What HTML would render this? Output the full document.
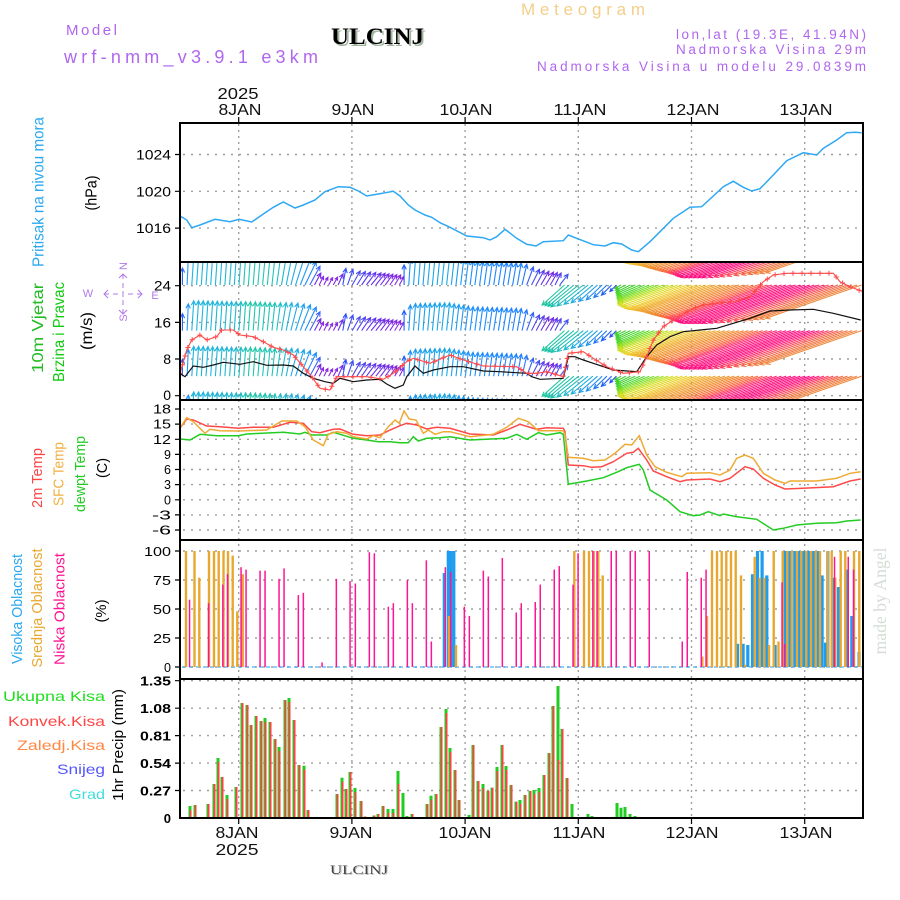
<!DOCTYPE html>
<html><head><meta charset="utf-8">
<style>
html,body{margin:0;padding:0;background:#fff;}
svg{display:block;}
text{font-family:"Liberation Sans",sans-serif;}
.sf{font-family:"Liberation Serif",serif;}
</style></head><body>
<svg width="900" height="900" viewBox="0 0 900 900" xmlns="http://www.w3.org/2000/svg">
<defs>
<clipPath id="cw"><rect x="181" y="263" width="681" height="136"/></clipPath>
</defs>
<rect width="900" height="900" fill="#fff"/>

<!-- header -->
<text x="521" y="15" font-size="17" fill="#f3cf8a" textLength="124" lengthAdjust="spacing">Meteogram</text>
<text x="66" y="35" font-size="15" fill="#b066ee" textLength="51" lengthAdjust="spacing">Model</text>
<text x="64" y="63" font-size="18" fill="#b066ee" textLength="254" lengthAdjust="spacing">wrf-nmm_v3.9.1 e3km</text>
<text class="sf" x="333" y="46" font-size="23" font-weight="bold" fill="#a0b4a0" textLength="93" lengthAdjust="spacingAndGlyphs">ULCINJ</text>
<text class="sf" x="331" y="44" font-size="23" font-weight="bold" fill="#000" textLength="93" lengthAdjust="spacingAndGlyphs">ULCINJ</text>
<text x="866" y="39" font-size="13.5" fill="#b066ee" text-anchor="end" textLength="190" lengthAdjust="spacing">lon,lat (19.3E, 41.94N)</text>
<text x="866" y="54" font-size="13.5" fill="#b066ee" text-anchor="end" textLength="190" lengthAdjust="spacing">Nadmorska Visina 29m</text>
<text x="866" y="71" font-size="13.5" fill="#b066ee" text-anchor="end" textLength="329" lengthAdjust="spacing">Nadmorska Visina u modelu 29.0839m</text>

<!-- top axis labels -->
<g font-size="16" fill="#111" text-anchor="middle">
<text x="238" y="99" textLength="41" lengthAdjust="spacingAndGlyphs">2025</text>
<text x="240" y="115" textLength="43" lengthAdjust="spacingAndGlyphs">8JAN</text>
<text x="353" y="115" textLength="43" lengthAdjust="spacingAndGlyphs">9JAN</text>
<text x="466" y="115" textLength="53" lengthAdjust="spacingAndGlyphs">10JAN</text>
<text x="580" y="115" textLength="53" lengthAdjust="spacingAndGlyphs">11JAN</text>
<text x="693" y="115" textLength="53" lengthAdjust="spacingAndGlyphs">12JAN</text>
<text x="806" y="115" textLength="53" lengthAdjust="spacingAndGlyphs">13JAN</text>
</g>
<!-- bottom axis labels -->
<g font-size="16" fill="#111" text-anchor="middle">
<text x="237" y="838" textLength="43" lengthAdjust="spacingAndGlyphs">8JAN</text>
<text x="237" y="855" textLength="43" lengthAdjust="spacingAndGlyphs">2025</text>
<text x="351" y="838" textLength="43" lengthAdjust="spacingAndGlyphs">9JAN</text>
<text x="465" y="838" textLength="53" lengthAdjust="spacingAndGlyphs">10JAN</text>
<text x="579" y="838" textLength="53" lengthAdjust="spacingAndGlyphs">11JAN</text>
<text x="692" y="838" textLength="53" lengthAdjust="spacingAndGlyphs">12JAN</text>
<text x="806" y="838" textLength="53" lengthAdjust="spacingAndGlyphs">13JAN</text>
</g>
<text class="sf" x="331" y="875" font-size="13" fill="#bbb" textLength="58" lengthAdjust="spacingAndGlyphs">ULCINJ</text>
<text class="sf" x="330" y="874" font-size="13" fill="#444" textLength="58" lengthAdjust="spacingAndGlyphs">ULCINJ</text>

<!-- rotated axis titles -->
<g font-size="16" text-anchor="middle">
<text transform="translate(43.5,192) rotate(-90)" fill="#2aa8f0" textLength="150" lengthAdjust="spacingAndGlyphs">Pritisak na nivou mora</text>
<text transform="translate(96.5,193) rotate(-90)" fill="#000" textLength="35" lengthAdjust="spacingAndGlyphs">(hPa)</text>
<text transform="translate(43,328) rotate(-90)" fill="#22bb22" textLength="90" lengthAdjust="spacingAndGlyphs">10m Vjetar</text>
<text transform="translate(64,332) rotate(-90)" fill="#11cc11" textLength="100" lengthAdjust="spacingAndGlyphs">Brzina i Pravac</text>
<text transform="translate(92,331) rotate(-90)" fill="#000" textLength="38" lengthAdjust="spacingAndGlyphs">(m/s)</text>
</g>
<g font-size="15" text-anchor="middle">
<text transform="translate(42,478) rotate(-90)" fill="#ff4444" textLength="60" lengthAdjust="spacingAndGlyphs">2m Temp</text>
<text transform="translate(63.5,474) rotate(-90)" fill="#f0b040" textLength="64" lengthAdjust="spacingAndGlyphs">SFC Temp</text>
<text transform="translate(85,474) rotate(-90)" fill="#22cc22" textLength="76" lengthAdjust="spacingAndGlyphs">dewpt Temp</text>
<text transform="translate(107,468) rotate(-90)" fill="#000" textLength="20" lengthAdjust="spacingAndGlyphs">(C)</text>
<text transform="translate(22,609) rotate(-90)" fill="#2aa8f0" textLength="110" lengthAdjust="spacingAndGlyphs">Visoka Oblacnost</text>
<text transform="translate(42,608) rotate(-90)" fill="#e8a830" textLength="119" lengthAdjust="spacingAndGlyphs">Srednja Oblacnost</text>
<text transform="translate(64.5,609) rotate(-90)" fill="#ff1493" textLength="112" lengthAdjust="spacingAndGlyphs">Niska Oblacnost</text>
<text transform="translate(106,611) rotate(-90)" fill="#000" textLength="23" lengthAdjust="spacingAndGlyphs">(%)</text>
<text transform="translate(123,745) rotate(-90)" fill="#000" textLength="112" lengthAdjust="spacingAndGlyphs">1hr Precip (mm)</text>
</g>
<text class="sf" transform="translate(886,601) rotate(-90)" font-size="18" fill="#d5ddd5" text-anchor="middle" textLength="107" lengthAdjust="spacingAndGlyphs">made by Angel</text>

<!-- precip legend -->
<g font-size="14" text-anchor="end">
<text x="105" y="701" fill="#22dd22" textLength="102" lengthAdjust="spacingAndGlyphs">Ukupna Kisa</text>
<text x="105" y="726" fill="#ff4444" textLength="97" lengthAdjust="spacingAndGlyphs">Konvek.Kisa</text>
<text x="105" y="750" fill="#ff8844" textLength="88" lengthAdjust="spacingAndGlyphs">Zaledj.Kisa</text>
<text x="105" y="774" fill="#5555ff" textLength="48" lengthAdjust="spacingAndGlyphs">Snijeg</text>
<text x="105" y="799" fill="#44dddd" textLength="36" lengthAdjust="spacingAndGlyphs">Grad</text>
</g>

<!-- compass -->
<g fill="#b07ae8" font-size="11" text-anchor="middle">
<text x="88" y="297">W</text>
<text x="155" y="299">E</text>
<text transform="translate(127,266) rotate(-90)">N</text>
<text transform="translate(127,318) rotate(-90)">S</text>
</g>
<g stroke="#b07ae8" fill="none" stroke-width="1">
<path d="M104 294h5M113 294h5M128 294h5M137 294h5M108 290l-4 4 4 4M138 290l4 4-4 4"/>
<path d="M123 274v5M123 283v5M123 300v5M123 309v5M119 278l4-4 4 4M119 310l4 4 4-4M123 291v6"/>
</g>

<!-- tick labels -->
<g font-size="14" fill="#000" text-anchor="end">
<text x="171" y="159.5" textLength="35" lengthAdjust="spacingAndGlyphs">1024</text>
<text x="171" y="196.3" textLength="35" lengthAdjust="spacingAndGlyphs">1020</text>
<text x="171" y="233.1" textLength="35" lengthAdjust="spacingAndGlyphs">1016</text>
<text x="171" y="290.7" textLength="17" lengthAdjust="spacingAndGlyphs">24</text>
<text x="171" y="327.4" textLength="17" lengthAdjust="spacingAndGlyphs">16</text>
<text x="171" y="364">8</text>
<text x="171" y="400">0</text>
</g>
<g font-size="12.5" fill="#000" text-anchor="end">
<text x="171" y="413.5" textLength="18" lengthAdjust="spacingAndGlyphs">18</text>
<text x="171" y="428.6" textLength="18" lengthAdjust="spacingAndGlyphs">15</text>
<text x="171" y="443.8" textLength="18" lengthAdjust="spacingAndGlyphs">12</text>
<text x="171" y="458.9">9</text>
<text x="171" y="474">6</text>
<text x="171" y="489.1">3</text>
<text x="171" y="504.3">0</text>
<text x="171" y="519.4" textLength="19" lengthAdjust="spacingAndGlyphs">-3</text>
<text x="171" y="534.5" textLength="19" lengthAdjust="spacingAndGlyphs">-6</text>
<text x="171" y="556" textLength="27" lengthAdjust="spacingAndGlyphs">100</text>
<text x="171" y="585" textLength="18" lengthAdjust="spacingAndGlyphs">75</text>
<text x="171" y="614" textLength="18" lengthAdjust="spacingAndGlyphs">50</text>
<text x="171" y="643" textLength="18" lengthAdjust="spacingAndGlyphs">25</text>
<text x="171" y="672">0</text>
</g>
<g font-size="13" font-weight="bold" fill="#000" text-anchor="end">
<text x="171" y="685.7" textLength="31" lengthAdjust="spacingAndGlyphs">1.35</text>
<text x="171" y="713.2" textLength="31" lengthAdjust="spacingAndGlyphs">1.08</text>
<text x="171" y="740.6" textLength="31" lengthAdjust="spacingAndGlyphs">0.81</text>
<text x="171" y="768.1" textLength="31" lengthAdjust="spacingAndGlyphs">0.54</text>
<text x="171" y="795.5" textLength="31" lengthAdjust="spacingAndGlyphs">0.27</text>
<text x="171" y="823">0</text>
</g>

<!-- grid -->
<g stroke="#a0a0a0" stroke-width="1.4" stroke-dasharray="2 6" fill="none">
<path d="M183 154.5H862M183 191.3H862M183 228.1H862M183 285.7H862M183 322.4H862M183 359H862M183 395.7H862M183 409H862M183 424.1H862M183 439.3H862M183 454.4H862M183 469.5H862M183 484.6H862M183 499.8H862M183 514.9H862M183 530H862M183 551H862M183 580H862M183 609H862M183 638H862M183 667H862M183 680.7H862M183 708.2H862M183 735.6H862M183 763.1H862M183 790.5H862"/>
</g>
<g stroke="#a0a0a0" stroke-width="1.4" stroke-dasharray="2 4" fill="none">
<path d="M238.7 124V817M351.9 124V817M465.1 124V817M578.3 124V817M691.5 124V817M804.7 124V817"/>
</g>

<!-- pressure -->
<polyline fill="none" stroke="#2ea8f5" stroke-width="1.5" points="180,216 186.7,220 191.7,227.7 200,225 215,219.3 230,221.7 239,219.3 251.7,222 263.3,214 273.3,207.3 283.3,202 295,208 303.3,205 315,200 325,191.7 338.3,186.7 350,187.3 358.3,191 366.7,196 378.3,194 393.3,191.3 400,196 408.3,205 415,210 425,215 431.7,217.3 440,222.7 450,227.3 466.7,236 483.3,237.7 490,240 496.7,236.7 505,229.3 516.7,238.3 526.7,244.3 536,246 543.3,241.7 563.3,240.7 568.3,235 576.7,238.3 593.3,244.7 605,246 613.3,242.7 621.7,244 631.7,250 638.3,251.7 650,241.7 660,231.7 673.3,218.3 690,207.3 701.7,206.7 713.3,196 723.3,186.7 733.3,181.3 743.3,187.3 751.7,191 760,188.7 773.3,175 786.7,160.7 803.3,152.7 816.7,155 823.3,148.3 836.7,140 846.7,132.7 855,132.3 861.7,132.7"/>

<!-- wind arrows -->
<g id="wind" clip-path="url(#cw)" fill="none" stroke-width="1.1"></g>
<g clip-path="url(#cw)" fill="none">
<polyline stroke="#111" stroke-width="1.2" points="180,373.3 185,376.7 193.3,366 203.3,367.3 213.3,365 223.3,362.3 240,364.3 253.3,361.7 266.7,365.3 283.3,365 293.3,366 303.3,373.3 313.3,378.3 325,381.7 333.3,383.3 340,378.3 346.7,380 353.3,381.7 366.7,380 380,379.3 386.7,384 395,388.3 403.3,385 406.7,376.7 415,366 423.3,373.3 433.3,370 450,366.7 463.3,366.7 483.3,371 500,371.7 526.7,373.3 531.7,376.7 540,379.3 563.3,378.3 568.3,356.7 575,356.7 583.3,360 593.3,363.3 613.3,370 636.7,371.7 646.7,356.7 656.7,345 670,336.7 683.3,331.7 700,330 716.7,328.3 733.3,323.3 750,318.3 770,311 790,310 813.3,309.3 833.3,313.3 860.7,320"/>
<polyline id="gust" stroke="#ff4848" stroke-width="1.1" points="180,373.3 186.7,350 191.7,340 200,335 206.7,340 216.7,336.7 221.7,330 233.3,330 240,335 253.3,336.7 263.3,341.7 273.3,347.3 283.3,350 293.3,355 303.3,366.7 311.7,376.7 320,388.3 330,390 336.7,376.7 350,376.7 366.7,376.7 383.3,379.3 393.3,373.3 406.7,361.7 413.3,358.3 430,363.3 450,355 463.3,360 483.3,366 516.7,366.7 526.7,373.3 536.7,373.3 546.7,371.7 563.3,376.7 568.3,353.3 583.3,351.7 593.3,358.3 606.7,366.7 623.3,373.3 640,371.7 646.7,356.7 653.3,340 663.3,326.7 673.3,320 690,310 703.3,305 716.7,303.3 733.3,301.7 750,296.7 763.3,281.7 773.3,275 786.7,273.3 810,273.3 833.3,273.3 840,281.7 850,286.7 863,291.7"/>
<g id="crosses" stroke="#ff4848" stroke-width="1"></g>
</g>

<!-- temperatures -->
<g fill="none" stroke-width="1.5">
<polyline stroke="#22cc22" points="180,439 190,440 200,434.3 216.7,435.7 238.3,435.7 246.7,434 283.3,432.3 300,434 305,432.3 311.7,435 326.7,435 333.3,432.3 353.3,438.3 366.7,440 378.3,441.7 390,441.7 400,442.7 408.3,442.7 413.3,436.7 418.3,441 426.7,438.3 440,437.7 450,436.7 470,440 506.7,438.3 516.7,434.3 526.7,439.3 538.3,432.7 546.7,435 560,432.7 563.3,434.3 568.3,484.3 586.7,481 603.3,477.7 616.7,472.3 626.7,467.7 639.3,464.3 643.3,470 650,490 666.7,500 680,511.7 693.3,515.7 700,515 708.3,511.7 720,515.7 723.3,514 736.7,516.7 756.7,519.3 773.3,530 783.3,528.3 796.7,525 816.7,523.3 836.7,522.7 846.7,521 860.7,520"/>
<polyline stroke="#ff4848" points="180,428.3 186.7,419 193.3,420 206.7,426 220,426.7 238.3,428.3 253.3,427.3 273.3,427.3 290,422.3 303.3,423.3 311.7,431.7 320,432.7 333.3,429.3 340,429 353.3,434.3 366.7,435.7 380,435 390,430 400,425.7 406.7,423.3 416.7,425 426.7,429 436.7,427.3 450,428.3 470,434 493.3,435 506.7,430 520,424.3 536.7,429.3 546.7,427.7 563.3,428.3 565,431.7 568.3,465 583.3,465.7 591.7,467.3 601.7,466.7 613.3,461.7 626.7,453.3 633.3,452.3 638.3,448.3 646.7,460 653.3,471 666.7,476.7 680,481.7 686.7,480 710,479 720,481.7 730,478.3 745,466.7 753.3,469 763.3,478.3 775,485 785,489 803.3,488.3 833.3,486.7 850,481 860.7,479"/>
<polyline stroke="#eeaa33" points="180,428.3 186.7,417.7 193.3,421.7 205,433.3 210,429.3 220,430.7 238.3,431 266.7,430 281.7,421 296.7,421 305,426.7 313.3,440 323.3,445.7 328.3,434.3 336.7,431.7 346.7,433.3 353.3,436.7 366.7,439 373.3,435.7 380,437.7 388.3,426.7 395,420 399.3,423.3 404,411 409.3,419 416,420 423.3,433.3 428.3,430 435,434.3 443.3,431.7 450,431.7 470,436.7 493.3,434.3 506.7,427.3 518.3,418.3 528.3,421.7 538.3,430.7 563.3,430.7 565,434.3 568.3,457.3 583.3,458.3 593.3,460.7 605,460 615,453.3 625,444.3 631.7,445 639.3,435.7 646.7,455 655,466.7 666.7,472.3 681.7,476.7 686.7,473.3 710,472.7 720,475 730,470 736.7,458.3 745,455 753.3,458.3 763.3,473.3 775,480 785,483.3 790,481 816.7,481 836.7,478.3 850,473.3 860.7,471.7"/>
</g>

<!-- clouds & precip -->
<line x1="182" y1="667" x2="862" y2="667" stroke="#1e9cf0" stroke-width="1" stroke-dasharray="4 3"/>
<g id="clouds"></g>
<g id="precip"></g>

<!-- frames -->
<g stroke="#000" stroke-width="2" fill="none">
<path d="M180 123H863M180 262H863M180 400H863M180 540H863M180 679H863M180 818H863M180 122V819M863 122V819"/>
</g>
<g stroke="#000" stroke-width="1.2" fill="none">
<path d="M238.7 117V123M351.9 117V123M465.1 117V123M578.3 117V123M691.5 117V123M804.7 117V123M238.7 818V824M351.9 818V824M465.1 818V824M578.3 818V824M691.5 818V824M804.7 818V824"/>
<path d="M175 154.5H180M175 191.3H180M175 228.1H180M175 285.7H180M175 322.4H180M175 359H180M175 395.7H180M175 409H180M175 424.1H180M175 439.3H180M175 454.4H180M175 469.5H180M175 484.6H180M175 499.8H180M175 514.9H180M175 530H180M175 551H180M175 580H180M175 609H180M175 638H180M175 667H180M175 680.7H180M175 708.2H180M175 735.6H180M175 763.1H180M175 790.5H180"/>
</g>
</svg>
<script>
(function(){
function f(n){return n.toFixed(1);}
function h2r(c){return [parseInt(c.slice(1,3),16),parseInt(c.slice(3,5),16),parseInt(c.slice(5,7),16)];}
var K=[
[182,0,-16,'#2a5cf5'],[186,1,-26,'#1e90ff'],[192,2,-30,'#1eb4e0'],[235,2,-29,'#20b8d0'],[248,2,-29,'#20c8a8'],
[272,3,-28,'#20c4b8'],[288,6,-28,'#20b0e0'],[300,10,-26,'#1e9cf0'],[308,12,-22,'#2080ff'],[313,7,-13,'#6a2ae8'],
[320,4,-8,'#8a2be2'],[332,4,-7,'#8a2be2'],[338,5,-11,'#6a30e8'],[343,3,-17,'#3050ff'],[352,8,-14,'#4848f0'],
[372,10,-12,'#6a30e8'],[395,6,-10,'#8a2be2'],[401,4,-8,'#8a2be2'],[404,0,-20,'#2060ff'],[410,2,-27,'#1e9cf0'],
[445,3,-28,'#18a8e8'],[470,3,-24,'#1e90ff'],[520,4,-22,'#1e80ff'],[530,8,-16,'#4050f0'],[545,8,-13,'#7a28e0'],
[555,6,-12,'#5040f0'],[563,10,-10,'#3060f0'],[563.5,-22,20,'#20c8a0'],[580,-28,22,'#20c0b0'],[592,-22,18,'#20b0e0'],
[602,-16,15,'#2090f0'],[612,-10,10,'#2060f0'],[617,-6,6,'#3050f0'],[617.5,-3,2,'#40d030'],[630,-14,7,'#40d030'],
[645,-28,12,'#50d830'],[660,-42,16,'#90e020'],[673,-55,20,'#d0e020'],[690,-64,24,'#f0d030'],[714,-74,26,'#f0a830'],
[740,-86,30,'#f08830'],[760,-94,33,'#ff6040'],[775,-102,35,'#ff2a78'],[790,-110,38,'#ff1080'],[815,-112,38,'#ff1080'],
[830,-108,37,'#ff4060'],[845,-100,35,'#f07040'],[865,-95,33,'#f09040']];
function itp(x){
 if(x<=K[0][0])return {dx:K[0][1],dy:K[0][2],c:K[0][3]};
 for(var j=0;j<K.length-1;j++){var a=K[j],b=K[j+1];
  if(x<=b[0]){var t=(x-a[0])/(b[0]-a[0]);var ca=h2r(a[3]),cb=h2r(b[3]);
   var c='rgb('+Math.round(ca[0]+(cb[0]-ca[0])*t)+','+Math.round(ca[1]+(cb[1]-ca[1])*t)+','+Math.round(ca[2]+(cb[2]-ca[2])*t)+')';
   return {dx:a[1]+(b[1]-a[1])*t,dy:a[2]+(b[2]-a[2])*t,c:c};}}
 var l=K[K.length-1];return {dx:l[1],dy:l[2],c:l[3]};}
var rows=[239.4,285,330.6,376.2,421.8];
var s='';
var ca=Math.cos(0.45),sa=Math.sin(0.45);
for(var i=0;i<=144;i++){
 var x=182.4+4.717*i;var v=itp(x);
 var L=Math.sqrt(v.dx*v.dx+v.dy*v.dy)||1;var ux=v.dx/L,uy=v.dy/L;var hl=Math.min(5,L*0.4);
 var bx=-ux,by=-uy;
 var h1x=(bx*ca-by*sa)*hl,h1y=(bx*sa+by*ca)*hl;
 var h2x=(bx*ca+by*sa)*hl,h2y=(-bx*sa+by*ca)*hl;
 var d='';
 for(var r=0;r<rows.length;r++){var y0=rows[r],tx=x+v.dx,ty=y0+v.dy;
  d+='M'+f(x)+' '+f(y0)+'L'+f(tx)+' '+f(ty)+'M'+f(tx+h1x)+' '+f(ty+h1y)+'L'+f(tx)+' '+f(ty)+'L'+f(tx+h2x)+' '+f(ty+h2y);}
 s+='<path d="'+d+'" stroke="'+v.c+'"/>';
}
document.getElementById('wind').innerHTML=s;

var pts=document.getElementById('gust').getAttribute('points').trim().split(/\s+/).map(function(p){var q=p.split(',');return [+q[0],+q[1]];});
var cs='',acc=0,step=9;
for(var k=0;k<pts.length-1;k++){var a=pts[k],b=pts[k+1];var dx=b[0]-a[0],dy=b[1]-a[1];var sl=Math.sqrt(dx*dx+dy*dy);
 var t=acc;while(t<=sl){var px=a[0]+dx*t/sl,py=a[1]+dy*t/sl;cs+='M'+f(px-2.5)+' '+f(py)+'h5M'+f(px)+' '+f(py-2.5)+'v5';t+=step;}
 acc=t-sl;}
document.getElementById('crosses').innerHTML='<path d="'+cs+'"/>';

var blue=[[445.5,81],[449.5,100],[452,100],[455,100],[738.7,20],[744.3,20],[749,19],[753.7,80],[758.7,100],[763.3,100],[768,79],[776.3,19],[786.3,100],[790.7,100],[796,100],[800.3,100],[805.3,100],[810,100],[814.7,100],[819,100],[823.3,79],[826.7,21],[829,100],[834.3,77],[839.7,69],[848,84],[853,44],[860.3,13]];
var orng=[[185,100],[193.5,100],[198.3,77],[208,100],[213,100],[217.7,100],[222.5,100],[227,100],[231.7,96],[236.3,48],[241.7,80],[448,44],[455,19],[573.3,100],[583,100],[588,100],[592.7,100],[597.3,100],[601.7,79],[701.3,9],[706,44],[711,100],[716,100],[720.7,100],[725.3,100],[730,100],[734.7,100],[740,79],[744.3,2],[753.7,95],[758.7,77],[763.3,77],[768,19],[772.7,100],[777.5,22],[781.7,100],[786.3,100],[790.7,100],[796,100],[800.3,100],[805.3,100],[810,100],[814.7,100],[819,100],[826.7,100],[830.7,100],[834.3,77],[839.7,100],[844.3,100],[853,100],[858.3,100]];
var pink=[[189.5,58],[208.5,55],[222.8,71],[227.5,80],[241,86],[246,84],[260,83],[265,83],[279,76],[284,85],[298.3,62],[303.3,64],[322,4],[336.3,76],[350,74],[355.3,72],[369.3,99],[374.3,98],[388.3,52],[393.3,55],[407.3,75],[412.3,55],[426.3,92],[431.3,22],[445.3,86],[450.7,82],[464.3,52],[469.3,44],[483.3,83],[488.3,78],[502.3,94],[516.3,47],[521.3,55],[535.3,56],[540.3,71],[554.3,84],[559.3,87],[573,71],[578,98],[592.9,100],[597,100],[611.3,100],[616.3,100],[630.3,100],[635.3,100],[649.3,100],[682.3,22],[687.3,82],[701.3,77],[706,84],[782,73],[784.5,20],[834.5,95],[848.3,95],[853.5,84]];
var cl='';
function bars(arr,w,off,col){arr.forEach(function(b){var h=1.16*b[1];cl+='<rect x="'+f(b[0]+off-w/2)+'" y="'+f(667-h)+'" width="'+w+'" height="'+f(h)+'" fill="'+col+'"/>';});}
bars(blue,3.2,-1.2,'#1e9cf0');bars(orng,2.4,1,'#e8a830');bars(pink,1.5,0,'#ff1493');
document.getElementById('clouds').innerHTML=cl;

var P=[[190,806,'g'],[195,805,'r'],[208,804,'r'],[214,784,'r'],[218,758,'g'],[222,777,'r'],[227,795,'g'],[236,787,'r'],[242,703,'r'],[247,705,'r'],[251,725,'r'],[256,716,'r'],[261,721,'r'],[265,718,'g'],[270,722,'r'],[275,739,'r'],[279,747,'g'],[285,700,'r'],[289,698,'g'],[294,720,'r'],[299,765,'r'],[304,765.7,'g'],[308,810,'r'],
[337,794,'r'],[342,777.7,'g'],[346,789,'r'],[350,772,'r'],[355,788,'g'],[361,801,'r'],[365,816.5,'r'],[374,815.5,'r'],[378,814,'r'],[383,806,'r'],[388,809,'g'],[393,809,'g'],[398,771,784],[403,793,'G'],[407,816,'g'],[412,814,'r'],
[427,804,'r'],[431,795.7,'g'],[436,794,'r'],[441,727,'r'],[446,709,'g'],[450,748,'g'],[455,770,'r'],[459,800,'r'],[469,815,'G'],[473,745,'r'],[478,781,'r'],[483,784,'g'],[488,791,'r'],[492,787.7,'r'],[497,767,'g'],[502,745,'r'],[506,766,'g'],[511,785,'r'],[516,801.7,'r'],[520,800,'g'],[525,795,'r'],[530,791,'r'],[534,790,'g'],[539,788,'g'],[544,775,'r'],[549,753,'r'],[553,706,'r'],[558,686,760],[562,729,'r'],[567,778,'r'],[572,804,'G'],[588,814,'G'],[592,816,'G'],[617,803,'G'],[621,807.7,'G'],[625,807,'G'],[630,814,'G'],[635,816,'G']];
var pr='';
P.forEach(function(b){var x=b[0],g=b[1],t=b[2],r;
 if(t==='r')r=g;else if(t==='g')r=g+4;else if(t==='G')r=818;else r=t;
 pr+='<rect x="'+f(x-1.5)+'" y="'+f(g)+'" width="3" height="'+f(818-g)+'" fill="#22cc22"/>';
 if(r<817)pr+='<rect x="'+f(x-0.3)+'" y="'+f(r)+'" width="1.8" height="'+f(818-r)+'" fill="#ff4040"/>';});
document.getElementById('precip').innerHTML=pr;
})();
</script>
</body></html>
